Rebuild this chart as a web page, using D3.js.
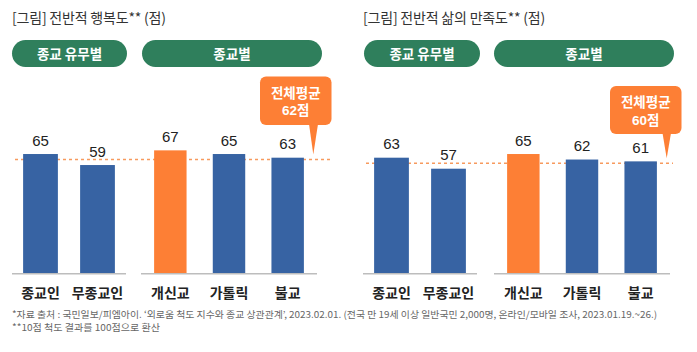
<!DOCTYPE html>
<html><head><meta charset="utf-8">
<script src="https://cdn.jsdelivr.net/npm/d3@7"></script>
<style>
html,body{margin:0;padding:0;background:#fff;}
svg{display:block;font-family:"Noto Sans CJK KR","Noto Sans",sans-serif;}
</style></head>
<body>
<svg id="chart" width="697" height="352"></svg>
<script>
// ---- data ----
const panelTitles = ["[그림] 전반적 행복도** (점)", "[그림] 전반적 삶의 만족도** (점)"];
const groupLabels = ["종교 유무별", "종교별"];
const group1Cats = ["종교인", "무종교인"];
const group2Cats = ["개신교", "가톨릭", "불교"];
const happinessG1 = [65, 59];
const happinessG2 = [67, 65, 63];
const satisfactionG1 = [63, 57];
const satisfactionG2 = [65, 62, 61];
const averages = [62, 60];
const highlightCat = "개신교";
const calloutLabel = "전체평균";
const footnotes = [
  "*자료 출처 : 국민일보/피엠아이. ‘외로움 척도 지수와 종교 상관관계’, 2023.02.01. (전국 만 19세 이상 일반국민 2,000명, 온라인/모바일 조사, 2023.01.19.~26.)",
  "**10점 척도 결과를 100점으로 환산"
];

// ---- style ----
const BLUE = "#3763a3", ORANGE = "#fd7f35", GREEN = "#2f7f5c", DASH = "#f79a5e", AXIS = "#bdbdbd";

const svg = d3.select("#chart");
const y = d3.scaleLinear().domain([0, 100]).range([273.3, 89.8]);

const panels = [
  {x0: 12, g1: [12, 126], g2: [141, 317], v1: happinessG1, v2: happinessG2, avg: averages[0],
   dash: [15, 330], pills: [[12, 127], [142, 322]], callout: {x: 260, y: 76.5, w: 71.5, h: 48.5, bx: [309, 318], tip: 313.3}},
  {x0: 363, g1: [363, 477], g2: [494, 670], v1: satisfactionG1, v2: satisfactionG2, avg: averages[1],
   dash: [366, 673], pills: [[364, 480], [494, 674]], callout: {x: 610, y: 86, w: 71.5, h: 48, bx: [662.5, 671], tip: 666.7}}
];

panels.forEach((p, pi) => {
  const g = svg.append("g");
  // title
  g.append("text").attr("x", p.x0).attr("y", 23).attr("font-size", 14).attr("fill", "#333")
    .attr("letter-spacing", -0.2).text(panelTitles[pi]);
  // pills
  p.pills.forEach((r, i) => {
    g.append("rect").attr("x", r[0]).attr("y", 40).attr("width", r[1] - r[0]).attr("height", 27)
      .attr("rx", 13.5).attr("fill", GREEN);
    g.append("text").attr("x", (r[0] + r[1]) / 2).attr("y", 58.5).attr("text-anchor", "middle")
      .attr("font-size", 13.5).attr("font-weight", "bold").attr("fill", "#fff").text(groupLabels[i]);
  });
  // average dashed line
  g.append("line").attr("x1", p.dash[0]).attr("x2", p.dash[1]).attr("y1", y(p.avg)).attr("y2", y(p.avg))
    .attr("stroke", DASH).attr("stroke-width", 1.5).attr("stroke-dasharray", "3,3");

  const groups = [
    {cats: group1Cats, vals: p.v1, range: p.g1, pin: 0.39},
    {cats: group2Cats, vals: p.v2, range: p.g2, pin: 0.447}
  ];
  groups.forEach(gr => {
    const x = d3.scaleBand().domain(gr.cats).range(gr.range).paddingInner(gr.pin).paddingOuter(gr.pin / 2);
    const data = gr.cats.map((c, i) => ({c, v: gr.vals[i]}));
    g.selectAll(null).data(data).enter().append("rect")
      .attr("x", d => x(d.c)).attr("width", x.bandwidth())
      .attr("y", d => y(d.v)).attr("height", d => y(0) - y(d.v))
      .attr("fill", d => d.c === highlightCat ? ORANGE : BLUE);
    g.selectAll(null).data(data).enter().append("text")
      .attr("x", d => x(d.c) + x.bandwidth() / 2).attr("y", d => y(d.v) - 8.5)
      .attr("text-anchor", "middle").attr("font-size", 15).attr("fill", "#222")
      .attr("font-family", "'Liberation Sans',Arial,sans-serif")
      .text(d => d.v);
    g.selectAll(null).data(data).enter().append("text")
      .attr("x", d => x(d.c) + x.bandwidth() / 2).attr("y", 298)
      .attr("text-anchor", "middle").attr("font-size", 14).attr("font-weight", "bold").attr("fill", "#222")
      .text(d => d.c);
    // baseline
    g.append("line").attr("x1", gr.range[0]).attr("x2", gr.range[1]).attr("y1", y(0) + 0.5).attr("y2", y(0) + 0.5)
      .attr("stroke", AXIS).attr("stroke-width", 1.5);
  });

  // callout
  const c = p.callout;
  g.append("rect").attr("x", c.x).attr("y", c.y).attr("width", c.w).attr("height", c.h).attr("rx", 6).attr("fill", ORANGE);
  g.append("path").attr("d", `M${c.bx[0]},${c.y + c.h - 1}L${c.tip},${y(p.avg) - 5}L${c.bx[1]},${c.y + c.h - 1}Z`).attr("fill", ORANGE);
  g.append("text").attr("x", c.x + c.w / 2).attr("y", c.y + 21).attr("text-anchor", "middle")
    .attr("font-size", 13.5).attr("font-weight", "bold").attr("fill", "#fff").text(calloutLabel);
  g.append("text").attr("x", c.x + c.w / 2).attr("y", c.y + 38.5).attr("text-anchor", "middle")
    .attr("font-size", 13.5).attr("font-weight", "bold").attr("fill", "#fff")
    .attr("font-family", "'Liberation Sans','Noto Sans CJK KR',sans-serif").text(p.avg + "점");
});

// footnotes
svg.append("text").attr("x", 12).attr("y", 318).attr("font-size", 9.5).attr("fill", "#666")
  .attr("textLength", 645).attr("lengthAdjust", "spacingAndGlyphs").text(footnotes[0]);
svg.append("text").attr("x", 12).attr("y", 331).attr("font-size", 9.5).attr("fill", "#666")
  .attr("textLength", 148).attr("lengthAdjust", "spacingAndGlyphs").text(footnotes[1]);
</script>
</body></html>
